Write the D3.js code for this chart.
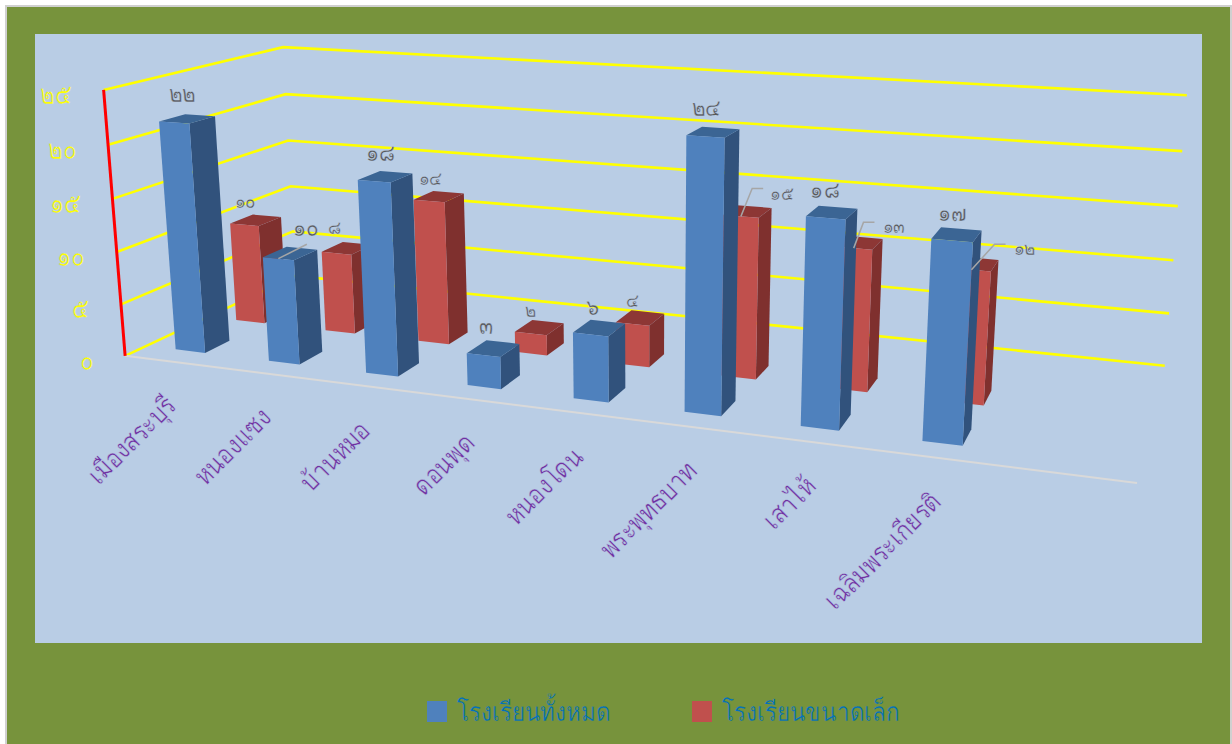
<!DOCTYPE html>
<html>
<head>
<meta charset="utf-8">
<script src="https://cdn.jsdelivr.net/npm/d3@7"></script>
<style>
  body { margin: 0; background: #fff; }
  text { font-family: "Noto Sans", sans-serif; }
</style>
</head>
<body>
<svg id="chart" width="1232" height="744"></svg>
<script>
var categories = ["เมืองสระบุรี", "หนองแซง", "บ้านหมอ", "ดอนพุด", "หนองโดน", "พระพุทธบาท", "เสาไห้", "เฉลิมพระเกียรติ"];
var seriesNames = ["โรงเรียนทั้งหมด", "โรงเรียนขนาดเล็ก"];
var allSchools = [22, 10, 18, 3, 6, 24, 18, 17];
var smallSchools = [10, 8, 14, 2, 4, 15, 13, 12];
var ticks = [0, 5, 10, 15, 20, 25];

const thaiDigits = "๐๑๒๓๔๕๖๗๘๙";
const thai = (n) => String(n).replace(/\d/g, (d) => thaiDigits[+d]);

// camera: box corners as they sit on the screen -> [cat 0..1, depth 0..1, value 0..1, px, py]
var cameraRefs = [
  [0, 0, 0, 125, 355], [0, 0, 0.2, 121, 304], [0, 0, 0.4, 117, 252], [0, 0, 0.6, 113, 199], [0, 0, 0.8, 108, 145], [0, 0, 1, 103, 90],
  [0, 1, 0, 295, 277], [0, 1, 0.2, 293, 232], [0, 1, 0.4, 291, 186], [0, 1, 0.6, 288, 140], [0, 1, 0.8, 286, 94], [0, 1, 1, 283, 47],
  [1, 1, 0, 1165, 365], [1, 1, 0.2, 1169, 313], [1, 1, 0.4, 1173, 260], [1, 1, 0.6, 1178, 206], [1, 1, 0.8, 1182, 151], [1, 1, 1, 1187, 96],
  [1, 0, 0, 1137, 484],
];

function solve(A, b) {
  var n = b.length;
  for (var i = 0; i < n; i++) {
    var p = i;
    for (var r = i + 1; r < n; r++) if (Math.abs(A[r][i]) > Math.abs(A[p][i])) p = r;
    [A[i], A[p]] = [A[p], A[i]];
    [b[i], b[p]] = [b[p], b[i]];
    for (var r = i + 1; r < n; r++) {
      var f = A[r][i] / A[i][i];
      for (var c = i; c < n; c++) A[r][c] -= f * A[i][c];
      b[r] -= f * b[i];
    }
  }
  for (var i = n - 1; i >= 0; i--) {
    for (var c = i + 1; c < n; c++) b[i] -= A[i][c] * b[c];
    b[i] /= A[i][i];
  }
  return b;
}

function fitCamera(refs) {
  var N = d3.range(11).map(() => d3.range(11).map(() => 0));
  var rhs = d3.range(11).map(() => 0);
  refs.forEach(function (r) {
    var X = r[0], Y = r[1], Z = r[2], u = r[3] / 1000, v = r[4] / 1000;
    var rows = [
      [[X, Y, Z, 1, 0, 0, 0, 0, -u * X, -u * Y, -u * Z], u],
      [[0, 0, 0, 0, X, Y, Z, 1, -v * X, -v * Y, -v * Z], v],
    ];
    rows.forEach(function (row) {
      for (var i = 0; i < 11; i++) {
        rhs[i] += row[0][i] * row[1];
        for (var j = 0; j < 11; j++) N[i][j] += row[0][i] * row[0][j];
      }
    });
  });
  return solve(N, rhs);
}

var cam = fitCamera(cameraRefs);

// the box is about nine slots long, bars only fill eight of them
var slots = 9;
var catScale = d3.scaleLinear().domain([0, slots]).range([0, 1]);
var valueScale = d3.scaleLinear().domain([0, 25]).range([0, 1]);
var project = function (cat, depth, value) {
  var X = catScale(cat), Z = valueScale(value);
  var w = cam[8] * X + cam[9] * depth + cam[10] * Z + 1;
  return [
    (1000 * (cam[0] * X + cam[1] * depth + cam[2] * Z + cam[3])) / w,
    (1000 * (cam[4] * X + cam[5] * depth + cam[6] * Z + cam[7])) / w,
  ];
};

var plotBg = "#b9cde5", pageBg = "#77933c";

var svg = d3.select("#chart");
svg.append("rect").attr("x", 6).attr("y", 6).attr("width", 1225).attr("height", 739)
  .attr("fill", pageBg).attr("stroke", "#d0d0d0").attr("stroke-width", 2);
svg.append("rect").attr("x", 35).attr("y", 34).attr("width", 1167).attr("height", 609).attr("fill", plotBg);

var line = d3.line();

// only one Thai font here and it is heavier and wider than the original:
// squeeze it and shave the glyphs with a stroke in the background colour
function squeezed(x, y, sx) {
  return "translate(" + x + "," + y + ") scale(" + sx + ",1)";
}

// walls
svg.append("g").selectAll("path").data(ticks).join("path")
  .attr("d", (t) => line([project(0, 0, t), project(0, 1, t), project(slots, 1, t)]))
  .attr("fill", "none").attr("stroke", "#ffff00").attr("stroke-width", 2.6);

// floor front edge and value axis
svg.append("path").attr("d", line([project(0, 0, 0), project(slots, 0, 0)]))
  .attr("stroke", "#d9d9d9").attr("stroke-width", 2);
svg.append("path").attr("d", line([project(0, 0, 0), project(0, 0, 25)]))
  .attr("stroke", "#ff0000").attr("stroke-width", 3);

svg.append("g").selectAll("text").data(ticks).join("text")
  .attr("transform", (t) => squeezed(project(0, 0, t)[0] - 32, project(0, 0, t)[1] + 14, 0.8))
  .attr("text-anchor", "end").attr("font-size", 28).attr("fill", "#ffff00")
  .attr("stroke", plotBg).attr("stroke-width", 0.6)
  .text(thai);

// bars, back series first so the front one covers it
var barCentre = 0.48, barWidth = 0.32;
// bars stop a touch under the gridlines in the original
var barTop = (v) => v * 0.99;
var series = [
  { name: seriesNames[1], values: smallSchools, z0: 0.45, z1: 0.585, front: "#c0504d", side: "#7f302e", top: "#8d3735", labelSize: 19,
    nudgeX: [-17, -18, -13, -12, -10, 33, 34, 50], nudgeY: [4, 3, 5, 7, 7, 5, 8, 9], leader: [5, 6, 7] },
  { name: seriesNames[0], values: allSchools, z0: 0.11, z1: 0.245, front: "#4f81bd", side: "#31527c", top: "#3b6594", labelSize: 23,
    nudgeX: [-13, 9, -11, -12, -10, -9, -8, -4], nudgeY: [-1, 0, 1, 4, 5, 0, 3, 4], leader: [1] },
];

series.forEach(function (s) {
  var g = svg.append("g").selectAll("g").data(s.values).join("g");
  var x0 = (i) => i + barCentre - barWidth / 2, x1 = (i) => i + barCentre + barWidth / 2;
  g.append("path").attr("fill", s.side)
    .attr("d", (v, i) => line([project(x1(i), s.z0, 0), project(x1(i), s.z1, 0), project(x1(i), s.z1, barTop(v)), project(x1(i), s.z0, barTop(v))]) + "Z");
  g.append("path").attr("fill", s.top)
    .attr("d", (v, i) => line([project(x0(i), s.z0, barTop(v)), project(x1(i), s.z0, barTop(v)), project(x1(i), s.z1, barTop(v)), project(x0(i), s.z1, barTop(v))]) + "Z");
  g.append("path").attr("fill", s.front)
    .attr("d", (v, i) => line([project(x0(i), s.z0, 0), project(x1(i), s.z0, 0), project(x1(i), s.z0, barTop(v)), project(x0(i), s.z0, barTop(v))]) + "Z");
});

// labels and leaders go over all the bars
series.forEach(function (s) {
  var labelPos = function (v, i) {
    var p = project(i + barCentre, s.z1, barTop(v));
    return [p[0] - 5 + s.nudgeX[i], p[1] - 12 + s.nudgeY[i]];
  };
  s.leader.forEach(function (i) {
    var v = s.values[i], from = project(i + barCentre, s.z0, barTop(v)), p = labelPos(v, i);
    // blue label sits right above its bar, so a straight leader is enough
    var pts = s.labelSize == 23
      ? [from, [p[0] + 1, p[1] + 8]]
      : [from, [p[0] - 30, p[1] - 11], [p[0] - 19, p[1] - 11]];
    svg.append("path").attr("d", line(pts)).attr("fill", "none")
      .attr("stroke", "#a6a6a6").attr("stroke-width", 1.5);
  });
  svg.append("g").selectAll("text").data(s.values).join("text")
    .attr("transform", (v, i) => squeezed(labelPos(v, i)[0], labelPos(v, i)[1], 0.9))
    .attr("text-anchor", "middle").attr("font-size", s.labelSize).attr("fill", "#595959")
    .attr("stroke", plotBg).attr("stroke-width", 0.4)
    .text(thai);
});

// category labels
svg.append("g").selectAll("text").data(categories).join("text")
  .attr("transform", function (d, i) {
    var p = project(i + barCentre, 0, 0);
    return "translate(" + (p[0] + 8) + "," + (p[1] + 46) + ") rotate(-45) scale(0.845,1)";
  })
  .attr("text-anchor", "end").attr("font-size", 27).attr("fill", "#7030a0")
  .attr("stroke", plotBg).attr("stroke-width", 0.5)
  .text((d) => d);

// legend
var legend = svg.append("g").selectAll("g").data(seriesNames).join("g")
  .attr("transform", (d, i) => "translate(" + (427 + i * 265) + ",701)");
legend.append("rect").attr("width", 20).attr("height", 21).attr("fill", (d, i) => (i == 0 ? "#4f81bd" : "#c0504d"));
legend.append("text").attr("transform", squeezed(30, 20, 0.865)).attr("font-size", 26).attr("fill", "#0070c0")
  .attr("stroke", pageBg).attr("stroke-width", 0.5)
  .text((d) => d);
</script>
</body>
</html>
